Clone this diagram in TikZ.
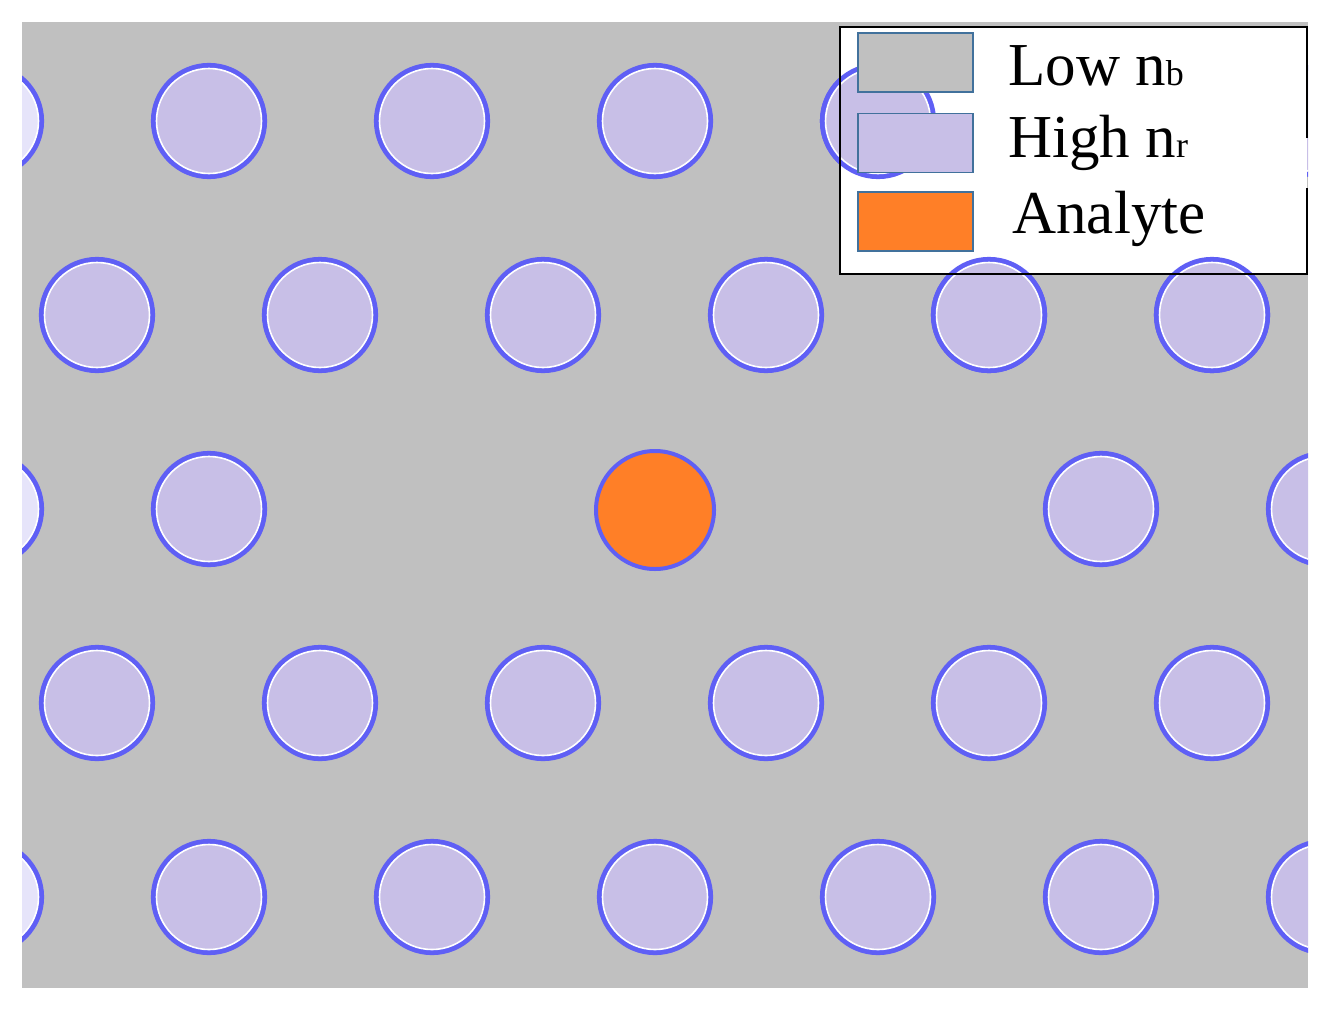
\documentclass[tikz,border=0pt]{standalone}
\usepackage{fontspec}
\setmainfont{Liberation Serif}
\definecolor{bgray}{RGB}{192,192,192}
\definecolor{lav}{RGB}{200,191,231}
\definecolor{lavlight}{RGB}{230,228,250}
\definecolor{ringblue}{RGB}{95,95,245}
\definecolor{orng}{RGB}{255,127,39}
\definecolor{swborder}{RGB}{65,113,156}
\tikzset{
  swatch/.style={draw=swborder, line width=0.8pt, minimum width=57.5pt, minimum height=29.5pt, inner sep=0pt},
  legtext/.style={anchor=base west, inner sep=0pt, font=\fontsize{30.5}{36}\selectfont},
}
\newcommand\subsc[1]{{\fontsize{18}{20}\selectfont #1}}
\newcommand\rodat[3]{%
  \fill[#3] (#1,#2) circle[radius=26.5pt];
  \draw[ringblue,line width=2.6pt] (#1,#2) circle[radius=27.75pt];
  \draw[white,line width=0.8pt] (#1,#2) circle[radius=26.25pt];
}
\begin{document}
\begin{tikzpicture}[x=0.5pt,y=-0.5pt]
\useasboundingbox (0,0) rectangle (1326,1012);
\fill[bgray] (22,22) rectangle (1308,988);
\begin{scope}
  \clip (22,22) rectangle (1308,988);
  % odd rows
  \foreach \yy in {121,897}{
    \rodat{-14}{\yy}{lavlight}
    \foreach \xx in {209,432,655,878,1101,1324}{\rodat{\xx}{\yy}{lav}}
  }
  % even rows
  \foreach \yy in {315,703}{
    \foreach \xx in {97,320,543,766,989,1212}{\rodat{\xx}{\yy}{lav}}
  }
  % defect row
  \rodat{-14}{509}{lavlight}
  \rodat{209}{509}{lav}
  \rodat{1101}{509}{lav}
  \rodat{1324}{509}{lav}
  % analyte
  \fill[orng] (655,510) circle[radius=28.75pt];
  \draw[ringblue,line width=2pt] (655,510) circle[radius=29.5pt];
\end{scope}
% legend
\fill[white] (840,27) rectangle (1307,274);
\begin{scope}
  \clip (22,22) rectangle (1308,988);
  \rodat{878}{121}{lav}
  \rodat{989}{315}{lav}
  \rodat{1212}{315}{lav}
\end{scope}
\draw[black,line width=1pt] (1307,138) -- (1307,27) -- (840,27) -- (840,274) -- (1307,274) -- (1307,188);
\node[swatch, fill=bgray] (sw1) at (915.5,62.5) {};
\node[swatch, fill=lav] (sw2) at (915.5,143) {};
\node[swatch, fill=orng] (sw3) at (915.5,221.5) {};
\node[legtext] (t1) at (1008,85) {Low n\subsc{b}};
\node[legtext] (t2) at (1008,157) {High n\subsc{r}};
\node[legtext] (t3) at (1012,233) {Analyte};
\end{tikzpicture}
\end{document}
